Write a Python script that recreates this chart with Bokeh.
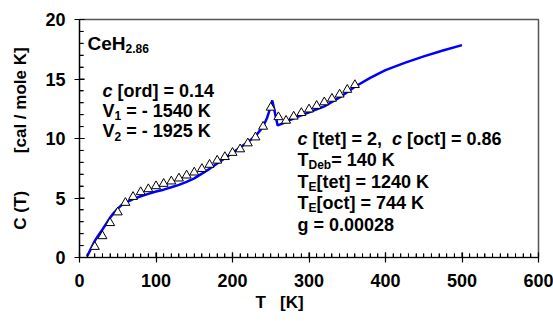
from bokeh.plotting import figure
from bokeh.models import Label, SingleIntervalTicker, Range1d, Title
from bokeh.embed import file_html
from bokeh.resources import INLINE

# ---------------- data ----------------
t_meas = [20, 30, 40, 50, 60, 70, 80, 90, 100, 110, 120, 130, 140, 150, 160, 170, 180,
          190, 200, 210, 220, 230, 240, 250, 260, 270, 280, 290, 300, 310, 320, 330,
          340, 350, 360]
c_meas = [0.9, 1.8, 2.9, 3.8, 4.6, 5.1, 5.5, 5.75, 6.0, 6.2, 6.4, 6.65, 6.9, 7.15, 7.45,
          7.8, 8.15, 8.45, 8.8, 9.1, 9.6, 10.1, 11.0, 12.6, 11.8, 11.5, 11.85, 12.15,
          12.45, 12.75, 13.05, 13.35, 13.7, 14.1, 14.5]

t_fit = [10, 15, 20, 25, 30, 35, 40, 45, 50, 55, 60, 70, 80, 90, 100, 110, 120, 130,
         140, 150, 160, 170, 180, 190, 200, 210, 220, 230, 240, 245, 248, 252, 255, 259,
         265, 270, 280, 290, 300, 320, 340, 360, 380, 400, 425, 450, 475, 500]
c_fit = [0.1, 0.75, 1.4, 1.9, 2.35, 2.85, 3.35, 3.75, 4.1, 4.4, 4.6, 4.9, 5.15, 5.35,
         5.55, 5.7, 5.9, 6.1, 6.35, 6.65, 7.05, 7.45, 7.9, 8.35, 8.8, 9.25, 9.7, 10.2,
         11.0, 11.7, 12.3, 13.2, 12.3, 11.1, 11.25, 11.4, 11.7, 11.95, 12.2, 12.7,
         13.45, 14.35, 15.1, 15.75, 16.35, 16.9, 17.4, 17.85]

x_ticks = [0, 100, 200, 300, 400, 500, 600]
y_ticks = [0, 5, 10, 15, 20]
x_minor = [t for t in range(0, 601, 10) if t not in x_ticks]
y_minor = [t for t in range(0, 21, 1) if t not in y_ticks]

FONT = "Liberation Sans"
NB = "\u00a0"

# ---------------- figure ----------------
p = figure(width=553, height=321,
           x_range=Range1d(x_ticks[0], x_ticks[-1]), y_range=Range1d(y_ticks[0], y_ticks[-1]),
           output_backend="svg", toolbar_location=None,
           min_border_left=79, min_border_right=15, min_border_top=19, min_border_bottom=64)
p.grid.visible = False
p.background_fill_color = "white"
p.outline_line_color = "#555555"
p.outline_line_width = 1.5

xa = p.xaxis[0]
ya = p.yaxis[0]
xa.ticker = SingleIntervalTicker(interval=x_ticks[1] - x_ticks[0], num_minor_ticks=10)
ya.ticker = SingleIntervalTicker(interval=y_ticks[1] - y_ticks[0], num_minor_ticks=5)
for ax in (xa, ya):
    ax.major_label_text_font = FONT
    ax.major_label_text_font_style = "bold"
    ax.major_label_text_font_size = "18px"
    ax.major_label_text_color = "black"
    ax.axis_line_color = "black"
    ax.axis_line_width = 1.2
    ax.major_tick_line_color = "black"
    ax.major_tick_line_width = 1.2
    ax.minor_tick_line_color = "black"
    ax.minor_tick_line_width = 1
    ax.major_tick_in = 5
    ax.major_tick_out = 5
    ax.minor_tick_in = 4
    ax.minor_tick_out = 0
xa.major_label_standoff = 11
ya.major_label_standoff = 9

ya.axis_label = "C (T)" + NB * 8 + "[cal / mole K]"
ya.axis_label_text_font = FONT
ya.axis_label_text_font_style = "bold"
ya.axis_label_text_font_size = "17px"
ya.axis_label_text_color = "black"
ya.axis_label_standoff = 12

xt = Title(text="T" + NB * 3 + "[K]", align="left", offset=176, standoff=2,
           text_font=FONT, text_font_size="17px", text_font_style="bold",
           text_color="black")
p.add_layout(xt, "below")

# inward tick marks drawn in data space (px lengths converted through the fixed ranges)
px_x = (x_ticks[-1] - x_ticks[0]) / 459.0   # data units per pixel, x
px_y = (y_ticks[-1] - y_ticks[0]) / 238.0   # data units per pixel, y
p.segment(x0=x_ticks, y0=[0] * len(x_ticks), x1=x_ticks, y1=[5 * px_y] * len(x_ticks),
          line_color="black", line_width=1.2)
p.segment(x0=x_minor, y0=[0] * len(x_minor), x1=x_minor, y1=[4 * px_y] * len(x_minor),
          line_color="black", line_width=1)
p.segment(x0=[0] * len(y_ticks), y0=y_ticks, x1=[5 * px_x] * len(y_ticks), y1=y_ticks,
          line_color="black", line_width=1.2)
p.segment(x0=[0] * len(y_minor), y0=y_minor, x1=[4 * px_x] * len(y_minor), y1=y_minor,
          line_color="black", line_width=1)

# ---------------- glyphs ----------------
p.line(t_fit, c_fit, line_color="#0000FF", line_width=2.5)
p.scatter(t_meas, c_meas, marker="triangle", size=9, fill_color="white",
          line_color="black", line_width=1)

# ---------------- rich text helper ----------------
W = {' ': 278, ',': 278, '-': 333, '.': 278, '=': 584, '[': 333, ']': 333, '/': 278,
     '(': 333, ')': 333, '0': 556, '1': 556, '2': 556, '3': 556, '4': 556, '5': 556,
     '6': 556, '7': 556, '8': 556, '9': 556, 'C': 722, 'D': 722, 'E': 667, 'H': 722,
     'K': 722, 'T': 611, 'V': 667, 'a': 556, 'b': 611, 'c': 556, 'd': 611, 'e': 556,
     'g': 611, 'l': 278, 'm': 889, 'o': 611, 'r': 389, 't': 333}


def tw(s, size):
    return sum(W.get(ch, 556) for ch in s) * size / 1000.0


def rich(x, y, parts, base=18, sub=12, drop=5):
    off = 0.0
    for txt, kind in parts:
        size = sub if kind == "sub" else base
        style = "bold italic" if kind == "it" else "bold"
        dy = -drop if kind == "sub" else 0
        lead = len(txt) - len(txt.lstrip(" "))
        off += tw(txt[:lead], size)
        body = txt.strip(" ")
        if body:
            p.add_layout(Label(x=x, y=y, x_offset=off, y_offset=dy, text=body,
                               text_font=FONT, text_font_size=f"{size}px",
                               text_font_style=style, text_baseline="alphabetic",
                               text_align="left", text_color="black"))
        off += tw(txt[lead:], size)


rich(10.5, 17.95, [("CeH", "n"), ("2.86", "sub")], base=19, sub=12, drop=5)
rich(30, 14.0, [("c", "it"), (" [ord] = 0.14", "n")])
rich(30, 12.34, [("V", "n"), ("1", "sub"), (" = - 1540 K", "n")])
rich(30, 10.6, [("V", "n"), ("2", "sub"), (" = - 1925 K", "n")])

rich(285, 9.98, [("c", "it"), (" [tet] = 2,", "n"), ("  c", "it"), (" [oct] = 0.86", "n")])
rich(285, 8.22, [("T", "n"), ("Deb", "sub"), ("= 140 K", "n")])
rich(285, 6.37, [("T", "n"), ("E", "sub"), ("[tet] = 1240 K", "n")])
rich(285, 4.6, [("T", "n"), ("E", "sub"), ("[oct] = 744 K", "n")])
rich(285, 2.76, [("g = 0.00028", "n")])

open("out.html", "w").write(file_html(p, INLINE))
